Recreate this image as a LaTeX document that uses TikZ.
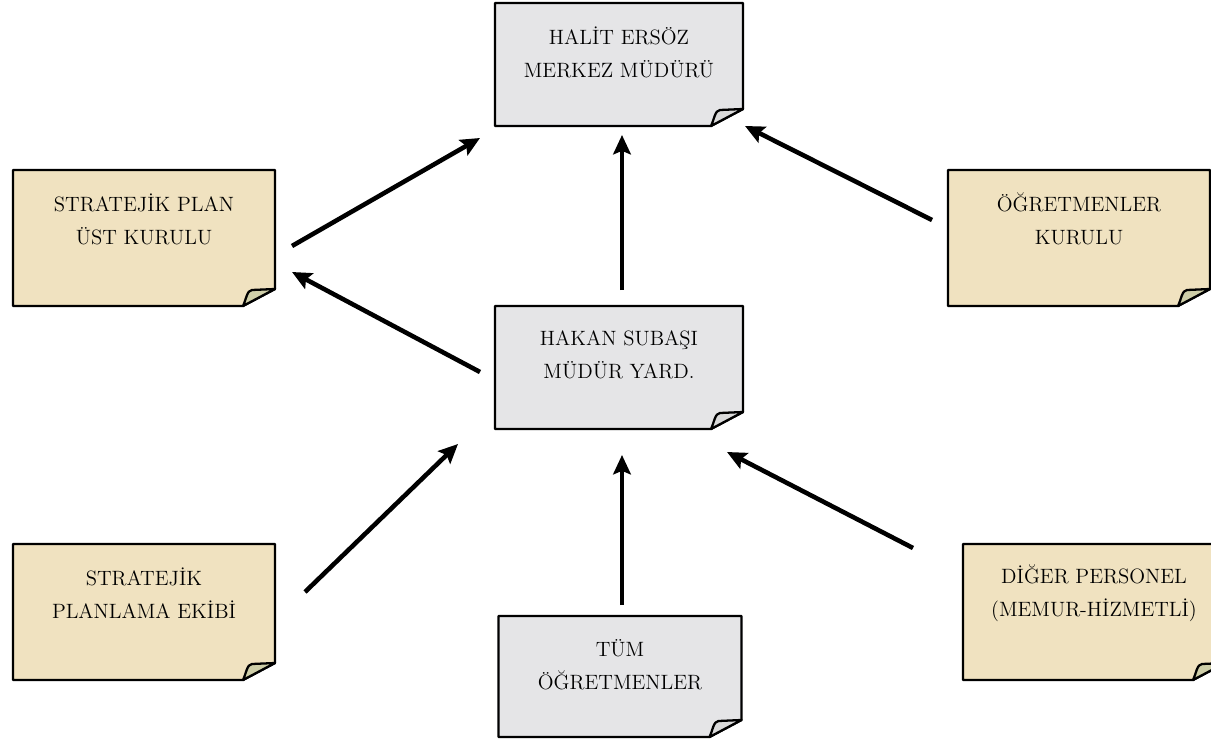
\documentclass[tikz,border=0pt]{standalone}
\usepackage{tikz}
\usetikzlibrary{arrows.meta, calc, backgrounds}

\definecolor{marble}{RGB}{229,229,231}
\definecolor{parchment}{RGB}{240,226,192}
\definecolor{flapgray}{RGB}{218,218,218}
\definecolor{flapolive}{RGB}{206,206,168}

% page with a turned-up corner, drawn around the text node #1
\newcommand{\paperbox}[5]{%
  \begin{scope}[shift={(#1.center)}]
    \draw[box, fill=#2] (-#4/2,-49) -- (#4/2,-49) -- (#4/2,#5-49-17)
      -- (#4/2-32,#5-49) -- (-#4/2,#5-49) -- cycle;
    \draw[box, fill=#3] (#4/2-32,#5-49) .. controls (#4/2-29,#5-55) and (#4/2-28,#5-65) .. (#4/2-23,#5-65)
      -- (#4/2,#5-49-17) -- cycle;
  \end{scope}}

\begin{document}
\begin{tikzpicture}[x=0.02cm, y=-0.02cm, ->, >={Stealth[length=11pt,width=10pt,inset=2pt]},
    every node/.style={font=\fontsize{11.8}{18.8}\selectfont, align=center, inner sep=0pt},
    box/.style={-, line width=1.3pt, line join=round},
    arr/.style={line width=2.6pt}]
  \clip (0,0) rectangle (1211,740);

  \node (director) at (619, 52)   {HALİT ERSÖZ\\MERKEZ MÜDÜRÜ};
  \node (splan)    at (144, 219)  {STRATEJİK PLAN\\ÜST KURULU};
  \node (council)  at (1079, 219) {ÖĞRETMENLER\\KURULU};
  \node (deputy)   at (619, 355)  {HAKAN SUBAŞI\\MÜDÜR YARD.};
  \node (pteam)    at (144, 593)  {STRATEJİK\\PLANLAMA EKİBİ};
  \node (teachers) at (620, 665)  {TÜM\\ÖĞRETMENLER};
  \node (staff)    at (1094, 593) {DİĞER PERSONEL\\(MEMUR-HİZMETLİ)};

  \begin{pgfonlayer}{background}
    \paperbox{director}{marble}{flapgray}{248}{123}
    \paperbox{deputy}{marble}{flapgray}{248}{123}
    \paperbox{teachers}{marble}{flapgray}{243}{121}
    \paperbox{splan}{parchment}{flapolive}{262}{136}
    \paperbox{council}{parchment}{flapolive}{262}{136}
    \paperbox{pteam}{parchment}{flapolive}{262}{136}
    \paperbox{staff}{parchment}{flapolive}{262}{136}
  \end{pgfonlayer}

  % free ends of the arrows
  \coordinate (s1) at (292,246); \coordinate (t1) at (480,138);
  \coordinate (s2) at (622,290); \coordinate (t2) at (622,135);
  \coordinate (s3) at (932,220); \coordinate (t3) at (745,126);
  \coordinate (s4) at (480,372); \coordinate (t4) at (292,272);
  \coordinate (s5) at (305,592); \coordinate (t5) at (458,444);
  \coordinate (s6) at (622,605); \coordinate (t6) at (622,455);
  \coordinate (s7) at (913,548); \coordinate (t7) at (727,452);

  \foreach \i in {1,...,7}
    \draw[arr] (s\i) -- (t\i);
\end{tikzpicture}
\end{document}
